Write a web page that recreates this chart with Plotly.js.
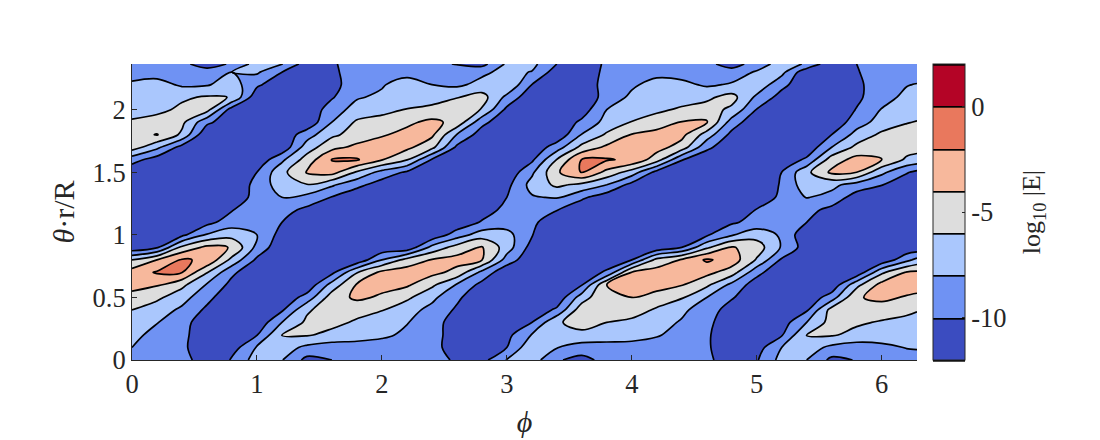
<!DOCTYPE html>
<html><head><meta charset="utf-8">
<script src="https://cdn.plot.ly/plotly-3.0.1.min.js"></script>
<style>html,body{margin:0;padding:0;background:#fff}</style>
</head><body><div id="chart" style="width:1100px;height:440px"></div>
<script>
const phi=[0,0.2,0.4,0.6,0.8,1,1.2,1.4,1.6,1.8,2,2.2,2.4,2.6,2.8,3,3.2,3.4,3.6,3.8,4,4.2,4.4,4.6,4.8,5,5.2,5.4,5.6,5.8,6,6.2,6.283];
const theta=[0,0.1,0.2,0.3,0.4,0.5,0.6,0.7,0.8,0.9,1,1.1,1.2,1.3,1.4,1.5,1.6,1.7,1.8,1.9,2,2.1,2.2,2.3,2.365];
const D=-11.5;
const r00=[-9,-9,-9.3,-11,-9.9,-7,-7.9,-10.6,-10,-9.2,-9,-9,-9.2,-10.3,-10.7,-7.9,-7,-9.8,-10.6,-9.4,-9.1,-9,-9,-9.6,-11,-10.2,-7.3,-8,-10.5,-9.9,-9.2,-9,-9];
const r01=[-8,-9,-9.7,-11,-11,-7.8,-7,-8.5,-9,-9,-9,-9,-9.3,-11,-11,-10,-6.5,-7.9,-9,-9.1,-9,-9,-9.2,-9.8,-11,-10.9,-8,-7,-8.5,-9,-8.6,-7.9,-7.8];
const r02=[-7.3,-8.8,-9.6,-11,-11,-10.1,-5.9,-5.8,-6.6,-7,-7.6,-8.4,-9.2,-11,-11,-10.6,-7.9,-6.4,-6.4,-6.6,-7,-7.8,-8.8,-9.8,-11,-11,-10.2,-5.9,-5.8,-6.6,-6.8,-7.2,-7.3];
const r03=[-7.2,-7.9,-9.4,-11,-11,-11.5,-8,-5.6,-5.4,-6.3,-7,-7.9,-9.1,-11,-11,-11,-10,-6.2,-5.4,-6,-6.5,-7.2,-8.2,-9.6,-11,-11,-11,-8,-5.2,-5.7,-6.2,-6.5,-6.6];
const r04=[-6,-7,-8.4,-10.4,D,D,-10.3,-6.3,-4.9,-5.3,-5.9,-7.2,-8.6,-10.3,D,D,D,-9.6,-4.8,-4.7,-5,-6.3,-7.6,-9,-10.9,D,D,-10.3,-5.2,-4.3,-5,-5.6,-5.9];
const r05=[-4.7,-5.6,-7.2,-9.4,D,D,D,-9.2,-5,-3.6,-4.3,-5.6,-7.5,-9.6,D,D,D,D,-7,-4.1,-4,-4.8,-5.8,-8,-9.8,D,D,D,-9,-4.2,-3.5,-4.2,-4.5];
const r06=[-3.3,-3.8,-5.5,-8.2,-10.6,D,D,D,-7.2,-3.8,-3.4,-3.7,-5.6,-8.2,-10.6,D,D,D,-10.1,-4,-3.2,-3.2,-3.9,-5.6,-8.6,-11,D,D,D,-6.6,-3.3,-3,-3];
const r07=[-3.1,-1.8,-1.95,-5.9,-9.6,D,D,D,-10.5,-6.1,-3.5,-3,-3.4,-4.6,-8.6,D,D,D,D,-9.6,-3.9,-3.1,-3.1,-3.4,-5,-9.4,D,D,D,D,-6.4,-3.8,-3.6];
const r08=[-6,-4,-1.8,-2.3,-6.6,-10.4,D,D,D,D,-8,-5.3,-3.9,-3.3,-3.9,-8.9,D,D,D,D,-10,-5.4,-3.8,-1.7,-2.9,-6.2,-10.3,D,D,D,D,-8.6,-7.4];
const r09=[D,-10.3,-5.5,-3.5,-4.1,-8.6,D,D,D,D,D,D,-7.4,-5.2,-3.8,-7,-10.8,D,D,D,D,D,-10,-6.4,-3.8,-5,-8.2,-11,D,D,D,D,D];
const r10=[D,D,-10.5,-7.8,-6.8,-8,-10.8,D,D,D,D,D,D,-9,-7,-7.3,-9.9,D,D,D,D,D,D,-10.3,-8.2,-6.8,-8.3,D,D,D,D,D,D];
const r11=[D,D,D,-10.6,-9,-9,-10,D,D,D,D,D,D,D,-9.8,-9,-9.5,D,D,D,D,D,D,D,-10.3,-9.3,-9,-10,D,D,D,D,D];
const r12=[D,D,D,D,-10.1,-9,-9.2,-10.5,D,D,D,D,D,D,-11,-9.4,-9,-9.9,D,D,D,D,D,D,D,-9.9,-9,-9.3,-10.6,D,D,D,D];
const r13=[D,D,D,D,-11.3,-9.3,-8,-8.6,-10.1,D,D,D,D,D,D,-10,-8.2,-7.8,-9.6,-11.2,D,D,D,D,D,D,-9.5,-7.9,-8.6,-11,D,D,D];
const r14=[D,D,D,D,D,-9.4,-6.9,-6.1,-7.7,-9.4,-11,D,D,D,D,-10.6,-7.3,-5.6,-6.5,-8,-10.7,D,D,D,D,D,-9.8,-6.8,-7.5,-8.8,-9.9,D,D];
const r15=[D,D,D,D,D,-10,-6.6,-3.8,-3.2,-6.3,-8.7,-10.3,D,D,D,D,-8.4,-4.3,-1.9,-4.6,-6.9,-10.7,D,D,D,D,-10,-6.5,-3.6,-4,-7.5,-9.8,-10.5];
const r16=[-9.2,-11,D,D,D,D,-8.4,-5.1,-1.9,-1.8,-3.9,-5.9,-10.2,D,D,D,-10.4,-5.9,-1.9,-1.8,-2.4,-5.1,-9.9,D,D,D,D,-9.6,-5,-3.3,-3.9,-6.4,-6.8];
const r17=[-5,-7.5,-10.8,D,D,D,D,-7,-4.6,-3.5,-3,-3.5,-5.4,-10.4,D,D,D,-9,-5.4,-3.6,-3.1,-3.2,-4.9,-9.5,D,D,D,D,-8,-5.5,-4.8,-5,-5.2];
const r18=[-4.8,-3.9,-6.4,-11.8,D,D,D,-8.9,-6.4,-5.2,-4.2,-3.4,-3.6,-8.1,-11,D,D,D,-7.9,-5.7,-3.9,-3.3,-3.4,-6.9,-10.6,D,D,D,-10,-7.3,-5.6,-5.2,-5.1];
const r19=[-5.6,-5.2,-5.5,-9.5,D,D,D,D,-8,-5.7,-5.1,-4.4,-3.5,-4.6,-9.4,D,D,D,-9.6,-7.3,-5.9,-5,-3.9,-3.8,-8.9,D,D,D,D,-8.9,-7.2,-6.1,-5.9];
const r20=[-7.2,-6.5,-5.6,-5.3,-11,D,D,D,-9,-7.2,-6.7,-5.9,-5.5,-5.1,-6.1,-10.5,D,D,-11,-8,-7.2,-6.4,-5.7,-5.2,-6.4,-10.1,D,D,D,-9.9,-7.9,-7,-6.8];
const r21=[-6.7,-6.6,-6.3,-5.8,-6.05,D,D,D,-10.2,-8.2,-7.6,-7.2,-6.8,-6.1,-5.2,-8.5,D,D,D,-9.2,-7.6,-7.2,-6.9,-6.4,-5.3,-8.4,-10.8,D,D,-10.4,-8.8,-7.5,-7.2];
const r22=[-7.6,-7.3,-8.3,-8.2,-7,-9.6,D,D,-10.6,-9,-8.2,-7,-8,-8.4,-7.4,-6.2,-10,D,-11,-9.4,-8.3,-7.3,-7.5,-8.3,-7.8,-6.6,-9.4,D,D,-10.4,-9,-8.1,-7.9];
const r23=[-9,-8.8,-9,-9,-8,-7.7,-10,D,-10.3,-9.3,-9,-8.8,-9,-9,-8.4,-7.4,-8.1,-11,-11,-9.6,-9,-8.6,-8.8,-9,-9,-7.8,-7.4,D,-11,-10.1,-9.3,-9,-9];
const r24=[-9.1,-9.2,-9.5,-11,-9.7,-7.2,-7.9,-11,-10.2,-9.3,-9.1,-9.2,-9.6,-10.1,-10.7,-7.7,-7.4,-10,D,-9.6,-9.2,-9,-9.1,-9.4,-11,-9,-7.2,-8.2,D,-10,-9.3,-9.1,-9];
const logE=[r00,r01,r02,r03,r04,r05,r06,r07,r08,r09,r10,r11,r12,r13,r14,r15,r16,r17,r18,r19,r20,r21,r22,r23,r24];
const bandColors=['#3b4cc0','#6f92f3','#aac7fd','#dddddd','#f7b89c','#e9785d','#b40426'];
const scale=[];bandColors.forEach((c,k)=>{scale.push([k/7,c]);scale.push([(k+1)/7,c]);});
const font='"Liberation Serif","Times New Roman",serif';
const ink='#262626';
Plotly.newPlot('chart',[{
  type:'contour',x:phi,y:theta,z:logE,zmin:-12,zmax:2,colorscale:scale,
  autocontour:false,contours:{start:-12,end:2,size:2,coloring:'fill',showlines:true},
  line:{color:'#000',width:1.7,smoothing:1},
  colorbar:{thicknessmode:'pixels',thickness:32,lenmode:'fraction',len:1,x:1.0204,xanchor:'left',xpad:0,ypad:0,y:0.5,yanchor:'middle',
    tickmode:'array',tickvals:[-10,-5,0],ticktext:['-10','-5','0'],ticks:'inside',ticklen:3,tickcolor:ink,
    outlinecolor:ink,outlinewidth:1,borderwidth:0,tickfont:{family:font,size:26.5,color:ink}}
}],{
  width:1100,height:440,autosize:false,paper_bgcolor:'#fff',plot_bgcolor:'#fff',showlegend:false,
  margin:{l:132,r:183,t:64,b:80,pad:0},
  font:{family:font,color:ink},
  xaxis:{range:[0,6.283],tickmode:'array',tickvals:[0,1,2,3,4,5,6],ticks:'inside',ticklen:5,tickcolor:ink,showline:true,linecolor:ink,linewidth:1,showgrid:false,zeroline:false,
    tickfont:{family:font,size:26.5,color:ink},title:{text:'<i>ϕ</i>',font:{family:font,size:30,color:ink},standoff:13}},
  yaxis:{range:[0,2.365],tickmode:'array',tickvals:[0,0.5,1,1.5,2],ticktext:['0','0.5','1','1.5','2'],ticks:'inside',ticklen:5,tickcolor:ink,showline:true,linecolor:ink,linewidth:1,showgrid:false,zeroline:false,
    tickfont:{family:font,size:26.5,color:ink},title:{text:'<i>θ</i>·r/R',font:{family:font,size:30,color:ink},standoff:9}},
  annotations:[{xref:'paper',yref:'paper',x:1.148,y:0.5,xanchor:'center',yanchor:'middle',textangle:-90,showarrow:false,
    text:'log<sub>10</sub> |E|',font:{family:font,size:26,color:ink}}]
},{displayModeBar:false,staticPlot:true});
</script></body></html>
